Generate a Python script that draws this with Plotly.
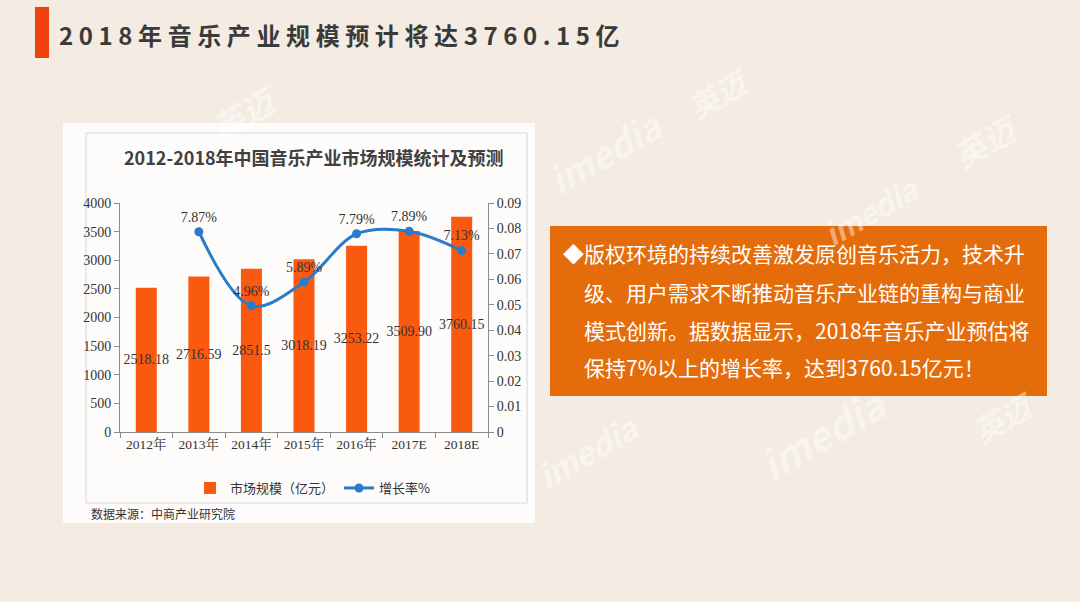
import plotly.graph_objects as go

# ---------------- data ----------------
years = ["2012年", "2013年", "2014年", "2015年", "2016年", "2017E", "2018E"]
market_size = [2518.18, 2716.59, 2851.5, 3018.19, 3253.22, 3509.90, 3760.15]
market_labels = ["2518.18", "2716.59", "2851.5", "3018.19", "3253.22", "3509.90", "3760.15"]
growth_rate = [None, 0.0787, 0.0496, 0.0589, 0.0779, 0.0789, 0.0713]
growth_labels = ["", "7.87%", "4.96%", "5.89%", "7.79%", "7.89%", "7.13%"]

slide_title = "2018年音乐产业规模预计将达3760.15亿"
chart_title = "2012-2018年中国音乐产业市场规模统计及预测"
source_text = "数据来源：中商产业研究院"
bar_name = "市场规模（亿元）"
line_name = "增长率%"
box_lines = [
    "◆版权环境的持续改善激发原创音乐活力，技术升",
    "级、用户需求不断推动音乐产业链的重构与商业",
    "模式创新。据数据显示，2018年音乐产业预估将",
    "保持7%以上的增长率，达到3760.15亿元！",
]

# ---------------- layout helpers (pixel -> paper) ----------------
W, H = 1080, 602
PL, PR, PT, PB = 120, 488, 203, 432


def px(x):
    return (x - PL) / (PR - PL)


def py(y):
    return (PB - y) / (PB - PT)


SERIF = "Liberation Serif, Noto Serif CJK SC, Noto Sans CJK SC, serif"
CJK = "Noto Sans CJK SC, Noto Sans, sans-serif"
BG = "#f4ece2"
BAR_C = "#fa5a10"
LINE_C = "#2a7cc8"
TXT = "#3a3a3a"

fig = go.Figure()

fig.add_trace(go.Bar(
    x=years, y=market_size, name=bar_name,
    marker=dict(color=BAR_C, line=dict(width=0)),
    width=0.4,
    text=market_labels, textposition="inside", insidetextanchor="middle",
    textangle=0, insidetextfont=dict(family=SERIF, size=14, color="#333333"),
    cliponaxis=False,
    hoverinfo="skip",
))

fig.add_trace(go.Scatter(
    x=years, y=growth_rate, name=line_name, yaxis="y2",
    mode="lines+markers+text",
    line=dict(color=LINE_C, width=3, shape="spline", smoothing=1.0),
    marker=dict(color=LINE_C, size=9),
    text=growth_labels, textposition="top center",
    textfont=dict(family=SERIF, size=14, color="#333333"),
    cliponaxis=False,
    connectgaps=False,
    hoverinfo="skip",
))

shapes = [
    # slide accent bar
    dict(type="rect", xref="paper", yref="paper", layer="below",
         x0=px(35), x1=px(49), y0=py(7), y1=py(58),
         fillcolor="#f0400c", line=dict(width=0)),
    # chart panel
    dict(type="rect", xref="paper", yref="paper", layer="below",
         x0=px(63), x1=px(535), y0=py(123), y1=py(523),
         fillcolor="#fdfcfb", line=dict(width=0)),
    dict(type="rect", xref="paper", yref="paper", layer="below",
         x0=px(86), x1=px(527), y0=py(133), y1=py(503),
         fillcolor="rgba(0,0,0,0)", line=dict(color="#d6d6d6", width=1)),
    # orange text box
    dict(type="rect", xref="paper", yref="paper", layer="below",
         x0=px(550), x1=px(1047), y0=py(226), y1=py(396),
         fillcolor="#e46c0b", line=dict(width=0)),
]

annotations = []

# faint background watermarks (only on open background)
wm = [("imedia", 675, 95, 36), ("imedia", 930, 162, 30), ("imedia", 900, 495, 40),
      ("imedia", 650, 500, 32),
      ("英迈", 200, 72, 32), ("英迈", 760, 55, 30), ("英迈", 1030, 100, 32),
      ("英迈", 1045, 455, 30)]
for t, x, y, s in wm:
    annotations.append(dict(
        text=f"<b><i>{t}</i></b>", x=px(x), y=py(y), xref="paper", yref="paper",
        showarrow=False, textangle=-30,
        font=dict(family="Noto Sans CJK SC, Open Sans, sans-serif", size=s,
                  color="rgba(255,255,255,0.45)")))

annotations += [
    dict(text=f'<b><span style="letter-spacing:5.6px">{slide_title}</span></b>',
         x=px(57), y=py(34), xref="paper", yref="paper", xanchor="left",
         yanchor="middle", showarrow=False,
         font=dict(family=CJK, size=24, color=TXT)),
    dict(text=f"<b>{chart_title}</b>", x=px(314), y=py(157), xref="paper",
         yref="paper", xanchor="center", yanchor="middle", showarrow=False,
         font=dict(family=CJK, size=18, color="#404040")),
    dict(text=source_text, x=px(89), y=py(513), xref="paper", yref="paper",
         xanchor="left", yanchor="middle", showarrow=False,
         font=dict(family=CJK, size=12, color="#333333")),
]

line_y = [253, 292, 330, 367]
for i, (t, y) in enumerate(zip(box_lines, line_y)):
    annotations.append(dict(
        text=t, x=px(561 if i == 0 else 582), y=py(y), xref="paper", yref="paper",
        xanchor="left", yanchor="middle", showarrow=False,
        font=dict(family=CJK, size=21, color="#ffffff")))

axis_font = dict(family=SERIF, size=14, color="#333333")

fig.update_layout(
    width=W, height=H,
    margin=dict(l=PL, r=W - PR, t=PT, b=H - PB, autoexpand=False),
    paper_bgcolor=BG, plot_bgcolor="rgba(0,0,0,0)",
    showlegend=True,
    legend=dict(orientation="h", x=px(190), y=py(488), xanchor="left",
                yanchor="middle", bgcolor="rgba(0,0,0,0)",
                font=dict(family=CJK, size=13, color="#333333"),
                itemwidth=30, traceorder="normal"),
    uniformtext=dict(minsize=14, mode="show"),
    bargap=0.6,
    xaxis=dict(
        type="category", showgrid=False, zeroline=False,
        showline=True, linecolor="#8a8a8a", linewidth=1,
        ticks="outside", tickson="boundaries", ticklen=5, tickcolor="#8a8a8a",
        tickfont=dict(family=SERIF, size=13.5, color="#333333"),
        fixedrange=True,
    ),
    yaxis=dict(
        range=[0, 4000], dtick=500, showgrid=False, zeroline=False,
        showline=True, linecolor="#8a8a8a", linewidth=1,
        ticks="outside", ticklen=5, tickcolor="#8a8a8a",
        tickfont=axis_font, fixedrange=True,
    ),
    yaxis2=dict(
        range=[0, 0.09], dtick=0.01, overlaying="y", side="right",
        showgrid=False, zeroline=False,
        showline=True, linecolor="#8a8a8a", linewidth=1,
        ticks="outside", ticklen=5, tickcolor="#8a8a8a",
        tickfont=axis_font, fixedrange=True,
    ),
    shapes=shapes,
    annotations=annotations,
)

fig.write_html("out.html")
